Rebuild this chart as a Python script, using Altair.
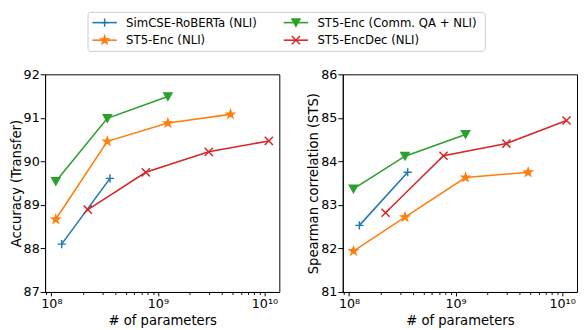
import altair as alt
import pandas as pd

series = ["SimCSE-RoBERTa (NLI)", "ST5-Enc (NLI)", "ST5-Enc (Comm. QA + NLI)", "ST5-EncDec (NLI)"]
colors = ["#1f77b4", "#ff7f0e", "#2ca02c", "#d62728"]
shapes = [
    "M-1,0H1M0,-1V1",
    "M0,-1L0.235,-0.324L0.951,-0.309L0.38,0.124L0.588,0.809L0,0.4L-0.588,0.809L-0.38,0.124L-0.951,-0.309L-0.235,-0.324Z",
    "M-1,-0.9L1,-0.9L0,0.9Z",
    "M-1,-1L1,1M-1,1L1,-1",
]

simcse_params = [1.25e8, 3.55e8]
st5enc_params = [1.1e8, 3.35e8, 1.24e9, 4.8e9]
st5enc_qa_params = [1.1e8, 3.35e8, 1.24e9]
st5encdec_params = [2.2e8, 7.7e8, 3.0e9, 1.1e10]

transfer_simcse = [88.10, 89.61]
transfer_st5enc = [88.67, 90.46, 90.88, 91.08]
transfer_st5enc_qa = [89.54, 90.99, 91.49]
transfer_st5encdec = [88.89, 89.75, 90.22, 90.47]

sts_simcse = [82.53, 83.75]
sts_st5enc = [81.94, 82.72, 83.63, 83.75]
sts_st5enc_qa = [83.37, 84.12, 84.62]
sts_st5encdec = [82.82, 84.13, 84.41, 84.94]

x_domain = [8.73e7, 1.38e10]
x_major = [1e8, 1e9, 1e10]
x_major_labels = ["10⁸", "10⁹", "10¹⁰"]
x_minor = [9e7] + [k * 1e8 for k in range(2, 10)] + [k * 1e9 for k in range(2, 10)]
transfer_ticks = [87, 88, 89, 90, 91, 92]
sts_ticks = [81, 82, 83, 84, 85, 86]

params_all = [simcse_params, st5enc_params, st5enc_qa_params, st5encdec_params]
transfer_all = [transfer_simcse, transfer_st5enc, transfer_st5enc_qa, transfer_st5encdec]
sts_all = [sts_simcse, sts_st5enc, sts_st5enc_qa, sts_st5encdec]


def make_df(values_all):
    rows = []
    for s, ps, vs in zip(series, params_all, values_all):
        for p, v in zip(ps, vs):
            rows.append({"series": s, "params": p, "value": v})
    return pd.DataFrame(rows)


label_expr = " : ".join(
    f"datum.value == {v:.0f} ? '{l}'" for v, l in zip(x_major, x_major_labels)
) + " : ''"
major_test = " || ".join(f"datum.value == {v:.0f}" for v in x_major)

color_scale = alt.Scale(domain=series, range=colors)
shape_scale = alt.Scale(domain=series, range=shapes)


def panel(df, title, ticks):
    x = alt.X(
        "params:Q",
        scale=alt.Scale(type="log", domain=x_domain, nice=False),
        axis=alt.Axis(
            values=x_major + x_minor,
            labelExpr=label_expr,
            tickSize={"condition": {"test": major_test, "value": 4}, "value": 2.5},
            title="# of parameters",
            grid=False,
            labelOverlap=False,
            labelFlush=False,
            labelPadding=2,
            titlePadding=3,
        ),
    )
    y = alt.Y(
        "value:Q",
        scale=alt.Scale(domain=[ticks[0], ticks[-1]], nice=False, zero=False),
        axis=alt.Axis(values=ticks, format="d", title=title, grid=False,
                      labelPadding=1, titlePadding=0),
    )
    color = alt.Color("series:N", scale=color_scale, legend=None)
    base = alt.Chart(df).encode(x=x, y=y, color=color)
    lines = base.mark_line(strokeWidth=1.6)
    pts = base.mark_point(filled=True, opacity=1, strokeWidth=1.5, size=70).encode(
        shape=alt.Shape("series:N", scale=shape_scale, legend=None),
        stroke=alt.Stroke("series:N", scale=color_scale, legend=None),
    )
    return alt.layer(lines, pts).properties(width=240, height=223)


left = panel(make_df(transfer_all), "Accuracy (Transfer)", transfer_ticks)
right = panel(make_df(sts_all), "Spearman correlation (STS)", sts_ticks)

leg_df = pd.DataFrame({
    "series": series,
    "col": [i // 2 for i in range(len(series))],
    "row": [i % 2 for i in range(len(series))],
})
lx = alt.X("col:Q", scale=alt.Scale(domain=[0, 1], range=[61, 257]), axis=None)
ly = alt.Y("row:Q", scale=alt.Scale(domain=[0, 1], range=[11, 29]), axis=None)
lcolor = alt.Color("series:N", scale=color_scale, legend=None)
leg_base = alt.Chart(leg_df)
box = alt.Chart(pd.DataFrame({"a": [0]})).mark_rect(
    fill="white", stroke="#cccccc", strokeWidth=1, cornerRadius=3
).encode(x=alt.value(44), x2=alt.value(451), y=alt.value(0.5), y2=alt.value(40.5))
leg_lines = leg_base.mark_rule(strokeWidth=1.6, xOffset=-12.5, x2Offset=12.5).encode(
    x=lx, x2=alt.X2("col:Q"), y=ly, color=lcolor
)
leg_pts = leg_base.mark_point(filled=True, opacity=1, strokeWidth=1.5, size=70).encode(
    x=lx, y=ly, color=lcolor,
    shape=alt.Shape("series:N", scale=shape_scale, legend=None),
    stroke=alt.Stroke("series:N", scale=color_scale, legend=None),
)
leg_text = leg_base.mark_text(align="left", baseline="middle", dx=22, fontSize=12,
                              font="DejaVu Sans", color="black").encode(
    x=lx, y=ly, text="series:N"
)
legend = alt.layer(box, leg_lines, leg_pts, leg_text).properties(
    width=480, height=41, view=alt.ViewBackground(strokeOpacity=0)
)

chart = alt.vconcat(
    legend,
    alt.hconcat(left, right, spacing=26),
    spacing=16,
).properties(
    padding={"left": 0, "top": 0, "right": 0, "bottom": 0}
).configure(
    font="DejaVu Sans"
).configure_view(
    stroke="black", strokeWidth=1
).configure_axis(
    labelFont="DejaVu Sans", titleFont="DejaVu Sans",
    labelFontSize=13, titleFontSize=13.5, titleFontWeight="normal",
    labelColor="black", titleColor="black",
    domainColor="black", tickColor="black", domainWidth=1, tickWidth=1,
)

chart.save("out.html", embed_options={"renderer": "svg", "actions": False})
